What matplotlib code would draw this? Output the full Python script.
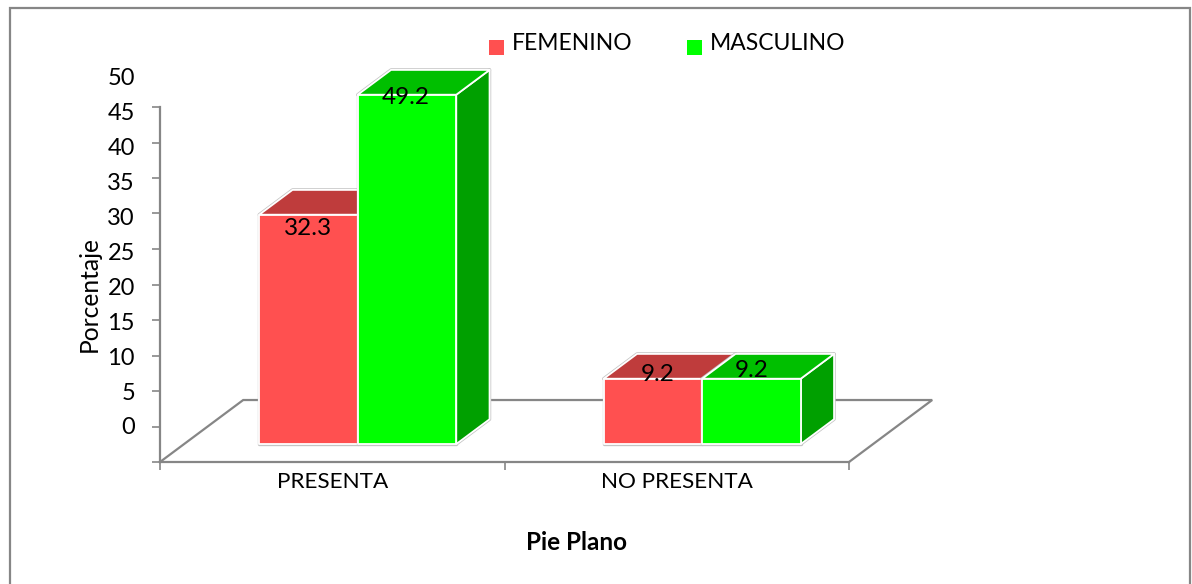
import matplotlib
matplotlib.use("Agg")
import matplotlib.pyplot as plt
from matplotlib.patches import Polygon, Rectangle

plt.rcParams['font.family'] = ['Lato', 'DejaVu Sans']

categories = ["PRESENTA", "NO PRESENTA"]
femenino = [32.3, 9.2]
masculino = [49.2, 9.2]
y_ticks = [0, 5, 10, 15, 20, 25, 30, 35, 40, 45, 50]

W, H = 1192, 584
GREY = "#868686"

# oblique projection: depth 0..1 runs from the front of the floor to the back
DX = 0.2415
DY = 8.73
BAR_D0 = 0.29
BAR_D1 = 0.69
GAP = 0.218
BAR_W = 0.286


def proj(x, v, d):
    return (x + d * DX, v + d * DY)


def draw_bar(ax, x0, val, front, top, side, z):
    x1 = x0 + BAR_W
    faces = [
        ([proj(x0, 0, BAR_D0), proj(x1, 0, BAR_D0), proj(x1, val, BAR_D0), proj(x0, val, BAR_D0)], front, z + 2),
        ([proj(x0, val, BAR_D0), proj(x1, val, BAR_D0), proj(x1, val, BAR_D1), proj(x0, val, BAR_D1)], top, z + 1),
        ([proj(x1, 0, BAR_D0), proj(x1, 0, BAR_D1), proj(x1, val, BAR_D1), proj(x1, val, BAR_D0)], side, z),
    ]
    for pts, color, order in faces:
        ax.add_patch(Polygon(pts, closed=True, facecolor=color, edgecolor="#c4c4c4", lw=2.4,
                             joinstyle="round", zorder=z - 0.5, clip_on=False))
    for pts, color, order in faces:
        ax.add_patch(Polygon(pts, closed=True, facecolor=color, edgecolor="white", lw=1.3,
                             joinstyle="round", zorder=order, clip_on=False))


fig = plt.figure(figsize=(W / 100, H / 100), dpi=100)

# outer chart frame, its bottom edge falls off the canvas
frame = Rectangle((9.5 / W, 1 - 600 / H), (1190 - 9.5) / W, (600 - 8) / H, transform=fig.transFigure,
                  facecolor="white", edgecolor=GREY, lw=1.6, zorder=-1)
fig.add_artist(frame)

ax = fig.add_axes([160 / W, 1 - 462 / H, (849 - 160) / W, (462 - 107) / H])
ax.set_xlim(0, 2)
ax.set_ylim(0, 50)
ax.patch.set_alpha(0)

for s in ["top", "right"]:
    ax.spines[s].set_visible(False)
for s in ["left", "bottom"]:
    ax.spines[s].set_color(GREY)
    ax.spines[s].set_linewidth(1.6)

ax.set_xticks([0, 1, 2])
ax.set_xticklabels([])
ax.tick_params(axis="x", length=6, width=1.2, color=GREY, direction="out")
ax.set_yticks(y_ticks)
ax.set_yticklabels([])
ax.tick_params(axis="y", length=6, width=1.2, color=GREY, direction="out", left=True)

# floor outline, drawn behind the bars
floor = [proj(0, 0, 0), proj(0, 0, 1), proj(2, 0, 1), proj(2, 0, 0)]
ax.plot(*zip(*floor), color=GREY, lw=1.6, clip_on=False, zorder=1, solid_joinstyle="miter")

# value labels on the axis sit one tick above their gridline
for t in y_ticks:
    ax.annotate(str(t), (0, t), xytext=(-25, 34 - 0.11 * t), textcoords="offset pixels",
                ha="right", va="center", fontsize=17, color="black", annotation_clip=False)

for i, cat in enumerate(categories):
    x_f = i + GAP
    x_m = i + GAP + BAR_W
    # femenino first, the masculino front overlaps its side face
    draw_bar(ax, x_f, femenino[i], "#ff5050", "#bf3c3c", "#bf3c3c", 5)
    draw_bar(ax, x_m, masculino[i], "#00ff00", "#00bf00", "#00a000", 15)
    ax.text(i + 0.5, -1.4, cat, ha="center", va="top", fontsize=16.2, clip_on=False)

# data labels
label_shift_f = [(0, -14), (5, 4)]
label_shift_m = [(-1, -3), (0, 8)]
for i in range(len(categories)):
    xf, yf = proj(i + GAP + BAR_W / 2, femenino[i], BAR_D0)
    xm, ym = proj(i + GAP + BAR_W * 1.5, masculino[i], BAR_D0)
    ax.annotate(f"{femenino[i]}", (xf, yf), xytext=label_shift_f[i], textcoords="offset pixels",
                ha="center", va="center", fontsize=17.5, zorder=30, annotation_clip=False)
    ax.annotate(f"{masculino[i]}", (xm, ym), xytext=label_shift_m[i], textcoords="offset pixels",
                ha="center", va="center", fontsize=17.5, zorder=30, annotation_clip=False)

fig.text(89 / W, 1 - 294 / H, "Porcentaje", rotation=90, ha="center", va="center", fontsize=17.7)
fig.text(577 / W, 1 - 542 / H, "Pie Plano", ha="center", va="center", fontsize=17.5, fontweight="bold")

# legend
for px, color, name in [(489, "#ff5050", "FEMENINO"), (687, "#00ff00", "MASCULINO")]:
    fig.add_artist(Rectangle((px / W, 1 - 55 / H), 15 / W, 15 / H, transform=fig.transFigure,
                             facecolor=color, edgecolor="none"))
    fig.text((px + 22.5) / W, 1 - 43 / H, name, ha="left", va="center", fontsize=16.5)

fig.savefig("out.png", dpi=100)
